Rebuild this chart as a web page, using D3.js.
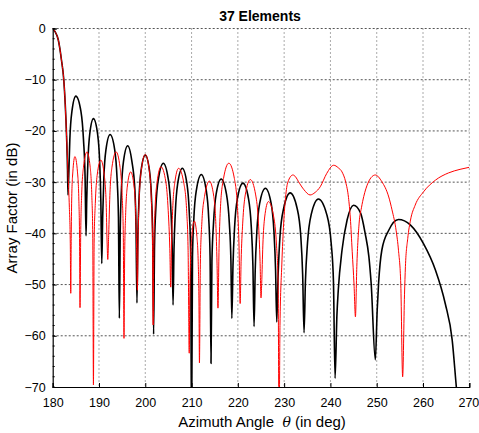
<!DOCTYPE html>
<html><head><meta charset="utf-8">
<script src="https://cdn.jsdelivr.net/npm/d3@7"></script>
<style>
body{margin:0;background:#fff;}
svg{display:block;font-family:"Liberation Sans",Arial,sans-serif;}
</style></head><body>
<svg id="c" width="479" height="433"></svg>
<script>
const title = "37 Elements";
const xLabel = "Azimuth Angle";
const yLabel = "Array Factor (in dB)";
const xTicks = [180,190,200,210,220,230,240,250,260,270];
const yTicks = [0,-10,-20,-30,-40,-50,-60,-70];

// black curve: [angle (deg), array factor (dB)]
const blackSeries = [
[180,0],[180.5,-0.6],[181.2,-2.2],[181.9,-6.2],[182.4,-10.1],[182.7,-14.6],[183.0,-21.1],[183.2,-27.5],[183.3,-32.5],
[183.45,-29.2],[183.7,-21.7],[184.15,-16.2],[185.0,-13.2],[186.1,-16.2],[186.65,-21.7],[187.0,-29.2],[187.2,-40.5],
[187.35,-33.6],[187.6,-26.1],[188.0,-20.6],[188.8,-17.6],[189.7,-20.6],[190.15,-26.1],[190.4,-33.6],[190.6,-45.9],
[190.8,-36.7],[191.05,-29.2],[191.5,-23.7],[192.4,-20.7],[193.4,-23.7],[193.9,-29.2],[194.2,-36.7],[194.4,-56.6],
[194.6,-38.9],[194.85,-31.4],[195.3,-25.9],[196.2,-22.9],[197.1,-25.9],[197.75,-31.4],[198.0,-38.9],[198.2,-53.6],
[198.4,-40.7],[198.65,-33.2],[199.1,-27.7],[200.0,-24.7],[200.9,-27.7],[201.35,-33.2],[201.6,-40.7],[201.8,-59.7],
[202.0,-42.3],[202.3,-34.8],[202.85,-29.3],[203.9,-26.3],[204.95,-29.3],[205.5,-34.8],[205.8,-42.3],[206.0,-54.0],
[206.2,-43.3],[206.5,-35.8],[207.0,-30.3],[208.0,-27.3],[209.0,-30.3],[209.5,-35.8],[209.8,-43.3],[210.0,-80],
[210.2,-44.5],[210.5,-37.0],[211.05,-31.5],[212.1,-28.5],[213.15,-31.5],[213.7,-37.0],[214.0,-44.5],[214.2,-65.4],
[214.4,-45.4],[214.75,-37.9],[215.3,-32.4],[216.4,-29.4],[217.55,-32.4],[218.15,-37.9],[218.5,-45.4],[218.7,-56.6],
[218.95,-46.2],[219.3,-38.7],[219.9,-33.2],[221.1,-30.2],[222.3,-33.2],[222.9,-38.7],[223.25,-46.2],[223.5,-58.2],
[223.75,-47.2],[224.1,-39.7],[224.7,-34.2],[225.95,-31.2],[227.2,-34.2],[227.8,-39.7],[228.15,-47.2],[228.4,-57.3],
[228.7,-48.1],[229.1,-40.6],[229.9,-35.1],[231.3,-32.1],[232.8,-35.1],[233.6,-40.6],[234.0,-48.1],[234.3,-59.4],
[234.6,-49.3],[235.05,-41.8],[235.85,-36.3],[237.4,-33.3],[239.2,-36.3],[240.15,-41.8],[240.65,-49.3],[241.0,-68.3],
[241.4,-56],[241.7,-51],[242.5,-43.3],[243.6,-37.4],[245.0,-34.5],[246.5,-36.0],[247.5,-40.0],[248.3,-44.5],[248.8,-49.8],[249.7,-64.7],
[250.1,-55],[250.4,-49.8],[251.1,-43.3],[252.6,-39.4],[254.7,-37.3],[257.3,-38.4],[260.1,-42.0],[262.7,-47.2],[264.8,-53.7],[266.3,-60.8],[267.2,-70],[267.6,-74]
];

// red curve: [angle (deg), array factor (dB)]
const redSeries = [
[180,0],[180.5,-0.6],[181.2,-2.2],[181.9,-6.2],[182.4,-10.1],[182.7,-14.6],[183.0,-21.1],[183.3,-28],[183.6,-35],[183.8,-42],[183.9,-51.7],
[184.0,-41],[184.1,-33.5],[184.35,-28],[184.8,-25.0],[185.35,-28],[185.65,-33.5],[185.8,-41],[185.9,-54.5],
[186.05,-40.1],[186.25,-32.6],[186.65,-27.1],[187.4,-24.1],[188.1,-27.1],[188.45,-32.6],[188.65,-40.1],[188.8,-69.6],
[188.95,-41.7],[189.2,-34.2],[189.6,-28.7],[190.4,-25.7],[191.15,-28.7],[191.55,-34.2],[191.75,-41.7],[191.9,-45.1],
[192.1,-40.1],[192.35,-32.6],[192.8,-27.1],[193.7,-24.1],[194.55,-27.1],[195.0,-32.6],[195.25,-40.1],[195.4,-60.5],
[195.55,-44],[195.75,-36.5],[196.1,-31],[196.85,-28],[197.6,-31],[197.95,-36.5],[198.15,-44],[198.3,-51.1],
[198.45,-40.6],[198.7,-33.1],[199.15,-27.6],[200.0,-24.6],[200.85,-27.6],[201.3,-33.1],[201.55,-40.6],[201.7,-57.9],
[201.85,-43],[202.1,-35.5],[202.55,-30],[203.4,-27.0],[204.45,-30],[204.95,-35.5],[205.3,-43],[205.5,-50.5],
[205.65,-43.3],[205.9,-35.8],[206.35,-30.3],[207.2,-27.3],[208.35,-30.3],[208.95,-35.8],[209.25,-43.3],[209.5,-63.4],
[209.6,-53.6],[209.75,-46.1],[210.05,-40.6],[210.6,-37.6],[211.15,-40.6],[211.45,-46.1],[211.6,-53.6],[211.7,-65.3],
[211.9,-45.8],[212.2,-38.3],[212.8,-32.8],[213.85,-29.8],[214.8,-32.8],[215.25,-38.3],[215.5,-45.8],[215.7,-54.6],
[215.95,-42.3],[216.25,-34.8],[216.9,-29.3],[218.05,-26.3],[219.25,-29.3],[219.9,-34.8],[220.25,-42.3],[220.5,-53.7],
[220.7,-45.5],[221.05,-38],[221.6,-32.5],[222.7,-29.5],[223.85,-32.5],[224.45,-38],[224.8,-45.5],[225.0,-52.6],
[225.15,-49.8],[225.4,-42.3],[225.8,-36.8],[226.6,-33.8],[227.75,-36.8],[228.35,-42.3],[228.7,-49.8],[228.9,-80],
[229.1,-58],[229.5,-46],[229.9,-38],[230.3,-33],[230.8,-30],[231.9,-28.6],[232.5,-29],[233.1,-29.9],[234.3,-31.5],[235.6,-32.5],
[236.7,-32],[237.8,-30.9],[239.2,-28.3],[240.7,-26.7],[241.7,-27.2],[242.5,-28.0],[243.3,-30],[243.9,-33],[244.3,-37],[244.7,-43.5],[245.1,-50],[245.4,-56.3],
[245.7,-46.5],[246.2,-38],[246.7,-35],[247.2,-32.8],[248.1,-30.2],[249.0,-28.9],[249.7,-28.6],[251.1,-29.9],[252.6,-32.9],[253.3,-35.4],[254.2,-39.5],[254.7,-43.3],[255.2,-50],[255.6,-68.0],
[256.0,-52],[256.2,-46.5],[256.7,-41],[257.3,-37.4],[258.3,-34.5],[260.1,-31.9],[262.7,-29.6],[265.5,-28.2],[268,-27.5],[270,-27.1]
];

const svg = d3.select("#c");
const L = 52.7, R = 469.3, T = 28.5, B = 387;
const x = d3.scaleLinear().domain([180,270]).range([L,R]);
const y = d3.scaleLinear().domain([-70,0]).range([B,T]);

svg.append("defs").append("clipPath").attr("id","clip")
  .append("rect").attr("x",L).attr("y",T-2).attr("width",R-L).attr("height",B-T+2);

// grid
const grid = svg.append("g");
grid.selectAll("line.v").data(xTicks.slice(1)).join("line")
  .attr("x1",d=>x(d)).attr("x2",d=>x(d)).attr("y1",T).attr("y2",B)
  .attr("stroke","#555").attr("stroke-width",1).attr("stroke-dasharray","1,3");
grid.selectAll("line.h").data(yTicks.slice(0,-1)).join("line")
  .attr("x1",L).attr("x2",R).attr("y1",d=>y(d)).attr("y2",d=>y(d))
  .attr("stroke","#555").attr("stroke-width",1).attr("stroke-dasharray","2,2");

// curves
const line = d3.line().x(d=>x(d[0])).y(d=>y(d[1])).curve(d3.curveMonotoneX);
const g = svg.append("g").attr("clip-path","url(#clip)");
g.append("path").datum(blackSeries).attr("d",line).attr("fill","none")
  .attr("stroke","#000").attr("stroke-width",1.6).attr("stroke-linejoin","round");
g.append("path").datum(redSeries).attr("d",line).attr("fill","none")
  .attr("stroke","#ff0000").attr("stroke-width",1.0).attr("stroke-linejoin","round");

// axes
const xAxis = d3.axisBottom(x).tickValues(xTicks).tickSize(-4).tickPadding(8).tickFormat(d3.format("d"));
const yAxis = d3.axisLeft(y).tickValues(yTicks).tickSize(-4).tickPadding(7).tickFormat(d=>d===0?"0":d3.format("d")(d));
const gx = svg.append("g").attr("transform",`translate(0,${B})`).call(xAxis);
const gy = svg.append("g").attr("transform",`translate(${L},0)`).call(yAxis);
[gx,gy].forEach(a=>{
  a.select(".domain").attr("stroke","#000").attr("stroke-width",1.2);
  a.selectAll(".tick line").attr("stroke","#000");
  a.selectAll(".tick text").attr("font-size",12.5).attr("fill","#000")
    .attr("font-family","'Liberation Sans',Arial,sans-serif");
});
gx.selectAll(".tick text").attr("dy","0.95em");
gx.selectAll(".tick").filter(d=>d===270).select("text").attr("text-anchor","end").attr("dx","9.5");
// minor ticks on y axis
const yMinor = d3.range(-70,0.1,2);
gy.selectAll("line.minor").data(yMinor).join("line").attr("class","minor")
  .attr("x1",0).attr("x2",2).attr("y1",d=>y(d)).attr("y2",d=>y(d))
  .attr("stroke","#000").attr("stroke-width",1);

// title
svg.append("text").attr("x",260).attr("y",21).attr("text-anchor","middle")
  .attr("font-size",14).attr("font-weight","bold").text(title);
// x label
const xl = svg.append("text").attr("x",262).attr("y",427).attr("text-anchor","middle").attr("font-size",15);
xl.append("tspan").text(xLabel + "\u00a0\u00a0");
xl.append("tspan").attr("font-style","italic").attr("font-family","'DejaVu Serif',serif").attr("font-size",14).text("\u03b8");
xl.append("tspan").text(" (in deg)");
// y label
svg.append("text").attr("transform","translate(17,208) rotate(-90)").attr("text-anchor","middle")
  .attr("font-size",15).text(yLabel);
</script>
</body></html>
